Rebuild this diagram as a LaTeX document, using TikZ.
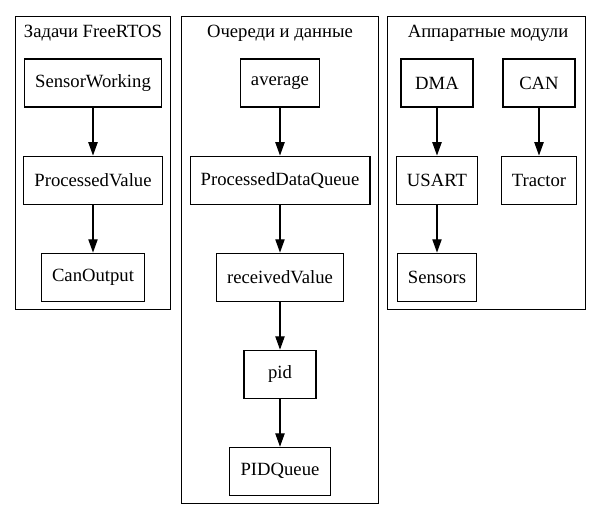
\documentclass[tikz,border=0pt]{standalone}
\usepackage{fontspec}
\setmainfont{LiberationSerif}[Extension=.ttf,UprightFont=*-Regular]
\usetikzlibrary{arrows.meta}
\usetikzlibrary{positioning}
\usetikzlibrary{fit}

\begin{document}
\begin{tikzpicture}[->,>={Triangle[length=10pt,width=7pt]},node distance = 36pt,line width=0.8pt,x=0.75pt,y=-0.75pt,font=\fontsize{14}{17}\selectfont]
\tikzstyle{v}=[draw,rectangle,minimum width=54pt,minimum height=36pt,inner xsep=8pt]
\tikzstyle{t}=[inner sep=0pt]
\tikzstyle{c}=[draw,inner sep=6pt]
\useasboundingbox (0,0) rectangle (604,518);
% tasks
\node[t]	(T1)	at (93,33)					{Задачи FreeRTOS};
\node[v]	(SW)	at (93,83)					{SensorWorking};
\node[v]	(PV)	[below= of SW]				{ProcessedValue};
\node[v]	(CO)	[below= of PV]				{CanOutput};
% queues
\node[t]	(T2)	at (280,33)					{Очереди и данные};
\node[v]	(avg)	at (280,83)					{average};
\node[v]	(PDQ)	[below= of avg]				{ProcessedDataQueue};
\node[v]	(RV)	[below= of PDQ]				{receivedValue};
\node[v]	(pid)	[below= of RV]				{pid};
\node[v]	(PQ)	[below= of pid]				{PIDQueue};
% hardware
\node[t]	(T3)	at (488,33)					{Аппаратные модули};
\node[v]	(DMA)	at (437,83)					{DMA};
\node[v]	(CAN)	at (539,83)					{CAN};
\node[v]	(USART)	[below= of DMA]				{USART};
\node[v]	(Tr)	[below= of CAN]				{Tractor};
\node[v]	(Sen)	[below= of USART]			{Sensors};
% clusters
\node[c,fit=(T1)(SW)(PV)(CO)]				(C1)	{};
\node[c,fit=(T2)(avg)(PDQ)(RV)(pid)(PQ)]	(C2)	{};
\node[c,fit=(T3)(DMA)(CAN)(USART)(Tr)(Sen)]	(C3)	{};
\path(SW)		edge		(PV)
     (PV)		edge		(CO)
     (avg)		edge		(PDQ)
     (PDQ)		edge		(RV)
     (RV)		edge		(pid)
     (pid)		edge		(PQ)
     (DMA)		edge		(USART)
     (USART)	edge		(Sen)
     (CAN)		edge		(Tr);
\end{tikzpicture}
\end{document}
